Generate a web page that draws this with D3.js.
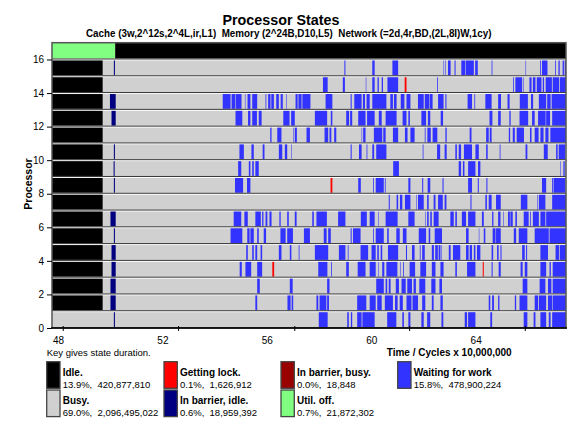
<!DOCTYPE html>
<html><head><meta charset="utf-8">
<script src="https://cdn.jsdelivr.net/npm/d3@7"></script>
<style>
body{margin:0;background:#fff}
text{font-family:"Liberation Sans",Arial,Helvetica,sans-serif;fill:#000}
</style>
</head><body><svg id="c" width="575" height="431"></svg>
<script>
// ---------------- data ----------------
const processors = [0,1,2,3,4,5,6,7,8,9,10,11,12,13,14,15];
const timeDomain = [47.77, 67.46];           // time / cycles x 10,000,000
const xLabelTicks = [48, 52, 56, 60, 64];
const xTickMarks = [48.2, 52.62, 57.07, 61.47, 65.9];
const yLabelTicks = [0, 2, 4, 6, 8, 10, 12, 14, 16];

// top row: utilisation off, then on
const utilOff = [[47.77, 50.19]];
const utilOn = [[50.19, 67.46]];

// idle at start (processor 0 has none)
const idleEnd = [null, 49.71, 49.71, 49.71, 49.71, 49.71, 49.71, 49.71, 49.71, 49.71, 49.71, 49.71, 49.71, 49.71, 49.71, 49.71];

// in barrier, idle
const barrierIdle = [
  [[50.14,50.18]], [[50.01,50.21]], [[50.01,50.21]], [[50.05,50.21]],
  [[50.05,50.21]], [[50.14,50.18]], [[50.01,50.21]], [],
  [[50.14,50.18]], [[50.13,50.17]], [[50.14,50.18]], [],
  [[50.05,50.21]], [[49.99,50.21]], [], [[50.14,50.18]]
];

// getting lock: [processor, start, end]
const gettingLock = [[3,56.21,56.28],[3,64.27,64.31],[8,58.44,58.51],[14,61.28,61.35]];

// waiting for work, per processor
const waiting0 = [[57.99,58.33],[59.08,59.14],[59.22,59.27],[59.46,59.63],[59.66,60.13],[60.61,60.96],[61.19,61.25],[61.42,61.50],[61.92,62.01],[62.14,62.26],[62.69,62.76],[63.58,63.67],[63.71,63.99],[64.56,64.63],[65.84,65.98],[66.22,66.29],[66.48,66.70],[66.80,66.87],[66.93,67.46]];
const waiting1 = [[55.56,55.63],[56.79,56.91],[56.95,57.01],[57.90,57.97],[58.02,58.28],[58.31,58.38],[59.46,59.81],[59.94,60.17],[60.23,60.40],[60.52,60.83],[60.91,61.01],[61.09,61.21],[61.35,61.54],[61.58,61.79],[61.95,62.07],[62.32,62.39],[62.65,62.74],[64.50,64.56],[64.63,64.70],[64.86,64.91],[65.50,65.55],[65.68,65.98],[66.26,66.39],[66.42,66.70],[66.77,66.93],[66.95,67.46]];
const waiting2 = [[55.63,55.73],[56.88,56.99],[58.31,58.40],[60.19,60.48],[60.55,60.61],[60.67,60.74],[60.94,61.06],[61.16,61.32],[61.38,61.56],[61.62,61.71],[61.84,62.07],[62.30,62.46],[62.61,62.71],[65.80,65.98],[66.45,66.67],[66.77,66.90],[66.95,67.46]];
const waiting3 = [[54.96,55.04],[55.18,55.40],[55.63,55.82],[57.97,58.32],[58.46,58.49],[59.04,59.14],[59.48,59.78],[59.94,60.17],[60.27,60.29],[60.42,60.50],[60.58,61.00],[61.11,61.13],[61.22,61.25],[61.47,61.68],[61.88,62.10],[62.32,62.46],[62.65,62.77],[63.22,63.28],[63.67,63.99],[64.61,64.65],[64.88,64.96],[65.72,65.80],[65.88,65.98],[66.48,66.70],[66.83,66.88],[66.95,67.46]];
const waiting4 = [[55.21,55.27],[55.44,55.50],[55.56,55.63],[55.76,55.82],[56.46,56.56],[56.88,56.94],[57.22,57.25],[57.84,58.35],[58.76,59.01],[59.10,59.13],[59.59,59.88],[60.01,60.17],[60.23,60.29],[60.36,60.42],[60.64,61.03],[61.33,61.37],[61.56,61.66],[61.86,61.89],[61.95,62.05],[62.32,62.40],[62.45,62.55],[62.58,62.65],[62.69,62.71],[62.97,63.04],[63.13,63.41],[63.63,63.73],[63.77,63.86],[63.93,63.99],[64.05,64.18],[64.61,64.67],[64.82,64.88],[64.95,64.99],[65.78,65.88],[65.93,65.97],[66.48,66.77],[67.06,67.19],[67.22,67.46]];
const waiting5 = [[54.61,55.06],[55.25,55.34],[55.37,55.50],[55.63,55.69],[55.88,55.97],[56.52,56.72],[56.78,57.00],[57.42,57.65],[58.18,58.29],[58.35,58.45],[59.21,59.25],[59.30,59.59],[60.07,60.10],[60.17,60.48],[60.61,60.67],[60.96,61.09],[61.21,61.35],[61.82,62.10],[62.20,62.26],[62.43,62.71],[63.63,63.73],[64.12,64.14],[64.31,64.37],[64.65,64.76],[64.78,64.96],[65.46,65.55],[65.65,65.98],[66.26,66.80],[66.83,67.46]];
const waiting6 = [[54.73,55.02],[55.14,55.27],[55.56,55.77],[55.82,55.87],[55.95,56.02],[56.10,56.18],[56.48,56.53],[56.78,56.84],[57.07,57.14],[57.74,57.80],[57.90,58.30],[58.73,59.01],[59.60,59.83],[59.94,60.13],[60.27,60.29],[60.55,61.01],[61.42,61.66],[62.06,62.08],[62.14,62.20],[62.26,62.32],[62.39,62.58],[63.03,63.16],[63.22,63.28],[63.47,63.63],[63.71,63.99],[64.24,64.31],[64.63,64.68],[64.86,64.95],[65.05,65.07],[65.24,65.31],[65.33,65.42],[65.52,65.58],[65.84,66.03],[66.08,66.11],[66.19,66.42],[66.48,66.67],[66.70,67.46]];
const waiting7 = [[60.67,60.71],[60.97,61.03],[61.10,61.19],[61.29,61.50],[61.72,61.74],[61.79,62.01],[62.14,62.20],[62.39,62.46],[62.56,62.74],[62.81,62.88],[63.80,63.84],[64.37,64.43],[64.50,64.61],[64.78,64.96],[65.73,65.98],[66.36,66.38],[66.42,66.67],[66.93,67.46]];
const waiting8 = [[54.78,55.09],[55.24,55.37],[59.50,59.60],[60.07,60.10],[60.17,60.48],[60.52,60.55],[61.42,61.50],[61.95,61.99],[62.16,62.26],[62.73,62.77],[63.71,63.86],[64.08,64.12],[64.41,64.45],[66.54,66.70],[66.93,66.98],[67.00,67.43]];
const waiting9 = [[54.90,55.02],[55.31,55.37],[55.44,55.50],[55.56,55.69],[60.84,61.06],[63.35,63.44],[63.51,63.57],[63.71,63.99],[64.09,64.18],[67.24,67.26],[67.36,67.41]];
const waiting10 = [[54.95,55.12],[55.41,55.50],[55.84,55.91],[56.46,56.59],[56.69,56.78],[56.93,56.95],[59.21,59.25],[59.53,59.63],[59.82,59.85],[60.04,60.11],[60.19,60.58],[61.97,62.00],[62.52,62.64],[62.81,62.89],[63.22,63.28],[63.35,63.44],[63.55,63.86],[63.99,64.12],[64.40,64.46],[64.92,64.95],[65.91,65.98],[66.61,66.76],[67.08,67.14],[67.18,67.43]];
const waiting11 = [[56.13,56.18],[56.40,56.56],[57.01,57.03],[57.07,57.15],[57.52,57.65],[58.21,58.35],[58.40,58.47],[58.58,58.66],[59.63,59.65],[59.69,59.78],[60.10,60.42],[60.46,60.55],[60.83,61.03],[61.29,61.39],[61.50,61.66],[62.05,62.08],[62.15,62.28],[62.35,62.53],[62.84,62.89],[63.77,63.84],[64.40,64.50],[64.54,64.61],[65.27,65.32],[65.42,65.50],[65.57,65.85],[66.08,66.14],[66.26,66.41],[66.48,66.60],[66.67,66.79],[66.86,67.46]];
const waiting12 = [[54.80,55.06],[55.28,55.37],[55.44,55.62],[55.69,55.80],[56.63,56.87],[56.93,57.07],[57.84,58.31],[58.45,58.51],[59.04,59.15],[59.19,59.27],[59.50,59.78],[59.84,60.13],[60.29,60.40],[60.55,60.97],[61.20,61.35],[61.42,61.48],[61.92,62.10],[62.17,62.26],[62.66,62.75],[64.53,64.64],[64.86,64.96],[65.29,65.34],[65.68,66.01],[66.16,66.26],[66.39,66.68],[66.70,66.85],[66.93,67.46]];
const waiting13 = [[54.31,54.61],[54.65,54.79],[54.81,55.03],[55.16,55.18],[55.26,55.37],[55.44,55.63],[55.95,55.98],[56.05,56.14],[56.17,56.27],[56.36,56.46],[56.53,56.61],[56.75,56.77],[57.10,57.18],[57.21,57.33],[57.36,57.67],[58.25,58.51],[59.21,59.25],[59.35,59.63],[59.68,59.76],[59.82,59.94],[60.04,60.58],[60.73,60.83],[60.87,60.97],[61.13,61.27],[61.35,61.50],[61.79,62.01],[62.05,62.23],[62.25,62.35],[62.56,62.77],[62.84,62.88],[63.69,63.86],[63.95,63.98],[64.37,64.61],[64.86,64.97],[65.22,65.30],[65.69,66.00],[66.12,66.20],[66.42,66.70],[66.74,66.87],[66.91,67.46]];
const waiting14 = [[58.15,58.33],[58.91,58.99],[59.79,59.81],[60.04,60.13],[60.24,60.29],[60.40,60.45],[60.62,61.03],[62.52,62.55],[65.43,65.46],[65.52,65.78],[65.83,65.85],[66.06,66.14],[66.19,66.29],[66.34,66.52],[66.57,66.62],[66.68,66.92],[66.95,67.20],[67.23,67.46]];
const waiting15 = [[58.97,59.01],[60.04,60.13],[60.81,61.03],[62.77,62.79],[62.84,62.86],[62.94,63.04],[63.19,63.23],[63.45,63.60],[63.62,63.93],[63.98,64.08],[64.61,64.64],[65.91,65.93],[66.47,66.50],[66.54,66.75],[67.04,67.07],[67.17,67.22],[67.33,67.38],[67.41,67.46]];
const waiting = [waiting0,waiting1,waiting2,waiting3,waiting4,waiting5,waiting6,waiting7,waiting8,waiting9,waiting10,waiting11,waiting12,waiting13,waiting14,waiting15];

// legend
const stateNames = ["Idle.", "Busy.", "Getting lock.", "In barrier, idle.", "In barrier, busy.", "Util. off.", "Waiting for work"];
const statePercents = [13.9, 69.0, 0.1, 0.6, 0.0, 0.7, 15.8];
const stateCycles = [420877810, 2096495022, 1626912, 18959392, 18848, 21872302, 478900224];

const titleText = "Processor States";
const subtitleText = "Cache (3w,2^12s,2^4L,ir,L1)  Memory (2^24B,D10,L5)  Network (=2d,4r,BD,(2L,8I)W,1cy)";

// ---------------- style ----------------
const stateColors = ["#000000", "#d0d0d0", "#ff0000", "#000080", "#990000", "#80ff80", "#3333ff"];
const C = {idle: stateColors[0], busy: stateColors[1], lock: stateColors[2], bIdle: stateColors[3], utilOff: stateColors[5], wait: stateColors[6]};

// ---------------- drawing ----------------
const svg = d3.select('#c');
const L = 52, R = 566, T = 42.7, B = 328;
const x = d3.scaleLinear().domain(timeDomain).range([L, R]);
const y = d3.scaleLinear().domain([0, 17]).range([B, T]);

const plot = svg.append('g');

function drawSpans(row, spans, color, top, bottom) {
  plot.append('g').selectAll('rect').data(spans).join('rect')
    .attr('x', d => x(d[0]))
    .attr('width', d => Math.max(0, x(d[1]) - x(d[0])))
    .attr('y', top).attr('height', bottom - top)
    .attr('fill', color);
}

// processor rows
processors.forEach(p => {
  const top = y(p + 1) + 1, bottom = y(p) - 1;
  drawSpans(p, [timeDomain], C.busy, top, bottom);
  if (idleEnd[p] !== null) drawSpans(p, [[timeDomain[0], idleEnd[p]]], C.idle, top, bottom);
  drawSpans(p, barrierIdle[p], C.bIdle, top, bottom);
  drawSpans(p, waiting[p], C.wait, top, bottom);
  drawSpans(p, gettingLock.filter(d => d[0] === p).map(d => [d[1], d[2]]), C.lock, top, bottom);
  plot.append('rect').attr('x', L).attr('width', R - L)
    .attr('y', y(p) - 1).attr('height', 1).attr('fill', '#333');
});
// utilisation row
{
  const top = y(17), bottom = y(16) - 1;
  drawSpans(16, utilOff, C.utilOff, top, bottom);
  drawSpans(16, utilOn, C.idle, top, bottom);
  plot.append('rect').attr('x', L).attr('width', R - L)
    .attr('y', y(16) - 1).attr('height', 1).attr('fill', '#333');
}

// frame
svg.append('rect').attr('x', L).attr('y', T).attr('width', R - L).attr('height', B - T)
  .attr('fill', 'none').attr('stroke', '#555').attr('stroke-width', 1.5);
svg.append('line').attr('x1', L - 1).attr('x2', R + 1).attr('y1', B).attr('y2', B)
  .attr('stroke', '#000').attr('stroke-width', 1.5);

// x axis labels
const xAxis = svg.append('g').attr('transform', `translate(0,${B})`)
  .call(d3.axisBottom(x).tickValues(xLabelTicks).tickSize(0).tickPadding(9).tickFormat(d3.format('d')));
xAxis.select('.domain').remove();
xAxis.selectAll('text').attr('font-size', 10).attr('font-family', null);
// x tick marks
svg.append('g').selectAll('line').data(xTickMarks).join('line')
  .attr('x1', d => x(d)).attr('x2', d => x(d)).attr('y1', B - 2).attr('y2', B + 3)
  .attr('stroke', '#000').attr('stroke-width', 1);

// y axis
const yAxis = svg.append('g').attr('transform', `translate(${L},0)`)
  .call(d3.axisLeft(y).tickValues(yLabelTicks).tickSize(5).tickPadding(3).tickFormat(d3.format('d')));
yAxis.select('.domain').remove();
yAxis.selectAll('line').attr('stroke', '#000');
yAxis.selectAll('text').attr('font-size', 10).attr('font-family', null);

// titles
svg.append('text').attr('x', 222.5).attr('y', 25).attr('font-size', 15).attr('font-weight', 'bold')
  .attr('textLength', 117).attr('lengthAdjust', 'spacingAndGlyphs').text(titleText);
svg.append('text').attr('x', 86).attr('y', 37.4).attr('font-size', 10).attr('font-weight', 'bold')
  .attr('xml:space', 'preserve')
  .attr('textLength', 405.5).attr('lengthAdjust', 'spacingAndGlyphs').text(subtitleText);
svg.append('text').attr('transform', 'translate(31.5,184) rotate(-90)').attr('text-anchor', 'middle')
  .attr('font-size', 10.5).attr('font-weight', 'bold').text('Processor');
svg.append('text').attr('x', 511.7).attr('y', 356).attr('text-anchor', 'end')
  .attr('font-size', 10).attr('font-weight', 'bold').text('Time / Cycles x 10,000,000');
svg.append('text').attr('x', 46.7).attr('y', 356).attr('font-size', 9.5)
  .text('Key gives state duration.');

// legend
const colX = [46.7, 164, 281, 397.7];
const rowY = [361.7, 390];
const fmtC = d3.format(',');
const fmtP = d3.format('.1f');
stateNames.forEach((name, i) => {
  const cx = colX[Math.floor(i / 2)], cy = rowY[i % 2];
  const g = svg.append('g');
  g.append('rect').attr('x', cx).attr('y', cy).attr('width', 13.3).attr('height', 26.6)
    .attr('fill', stateColors[i]).attr('stroke', '#444').attr('stroke-width', 1.3);
  g.append('text').attr('x', cx + 16).attr('y', cy + 14).attr('font-size', 10).attr('font-weight', 'bold').text(name);
  g.append('text').attr('x', cx + 16).attr('y', cy + 26.3).attr('font-size', 9.5)
    .attr('xml:space', 'preserve')
    .text(`${fmtP(statePercents[i])}%,  ${fmtC(stateCycles[i])}`);
});
</script>
</body></html>
